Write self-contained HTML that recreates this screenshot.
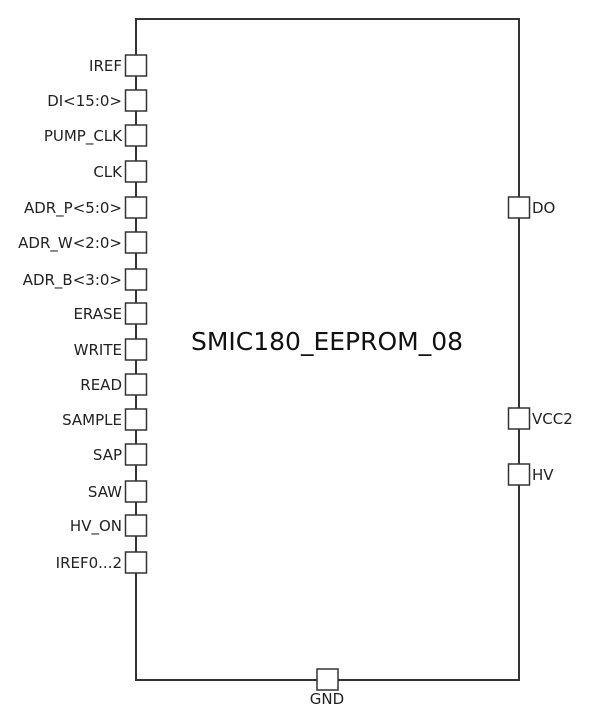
<!DOCTYPE html>
<html><head><style>body{margin:0;background:#fff}</style></head><body>
<svg width="601" height="721" xmlns="http://www.w3.org/2000/svg" font-family="'DejaVu Sans','Liberation Sans',sans-serif">
<rect x="0" y="0" width="601" height="721" fill="#fff"/>
<rect x="136" y="19" width="383" height="661" fill="none" stroke="#333" stroke-width="2"/>
<g fill="#fff" stroke="#333" stroke-width="1.5">
<rect x="125.5" y="55" width="21" height="21"/>
<rect x="125.5" y="90" width="21" height="21"/>
<rect x="125.5" y="125" width="21" height="21"/>
<rect x="125.5" y="161" width="21" height="21"/>
<rect x="125.5" y="197" width="21" height="21"/>
<rect x="125.5" y="232" width="21" height="21"/>
<rect x="125.5" y="269" width="21" height="21"/>
<rect x="125.5" y="303" width="21" height="21"/>
<rect x="125.5" y="339" width="21" height="21"/>
<rect x="125.5" y="374" width="21" height="21"/>
<rect x="125.5" y="409" width="21" height="21"/>
<rect x="125.5" y="444" width="21" height="21"/>
<rect x="125.5" y="481" width="21" height="21"/>
<rect x="125.5" y="515" width="21" height="21"/>
<rect x="125.5" y="552" width="21" height="21"/>
<rect x="508.5" y="197" width="21" height="21"/>
<rect x="508.5" y="408" width="21" height="21"/>
<rect x="508.5" y="464" width="21" height="21"/>
<rect x="317" y="669" width="21" height="21"/>
</g>
<g font-size="15" fill="#222" text-anchor="end">
<text x="122" y="71">IREF</text>
<text x="122" y="106">DI&lt;15:0&gt;</text>
<text x="122" y="141">PUMP_CLK</text>
<text x="122" y="177">CLK</text>
<text x="122" y="213">ADR_P&lt;5:0&gt;</text>
<text x="122" y="248">ADR_W&lt;2:0&gt;</text>
<text x="122" y="285">ADR_B&lt;3:0&gt;</text>
<text x="122" y="319">ERASE</text>
<text x="122" y="355">WRITE</text>
<text x="122" y="390">READ</text>
<text x="122" y="425">SAMPLE</text>
<text x="122" y="460">SAP</text>
<text x="122" y="497">SAW</text>
<text x="122" y="531">HV_ON</text>
<text x="122" y="568">IREF0...2</text>
</g>
<g font-size="15" fill="#222">
<text x="532" y="213">DO</text>
<text x="532" y="424">VCC2</text>
<text x="532" y="480">HV</text>
<text x="327" y="704" text-anchor="middle">GND</text>
</g>
<text x="327" y="350" font-size="25" fill="#111" text-anchor="middle">SMIC180_EEPROM_08</text>
</svg>
</body></html>
